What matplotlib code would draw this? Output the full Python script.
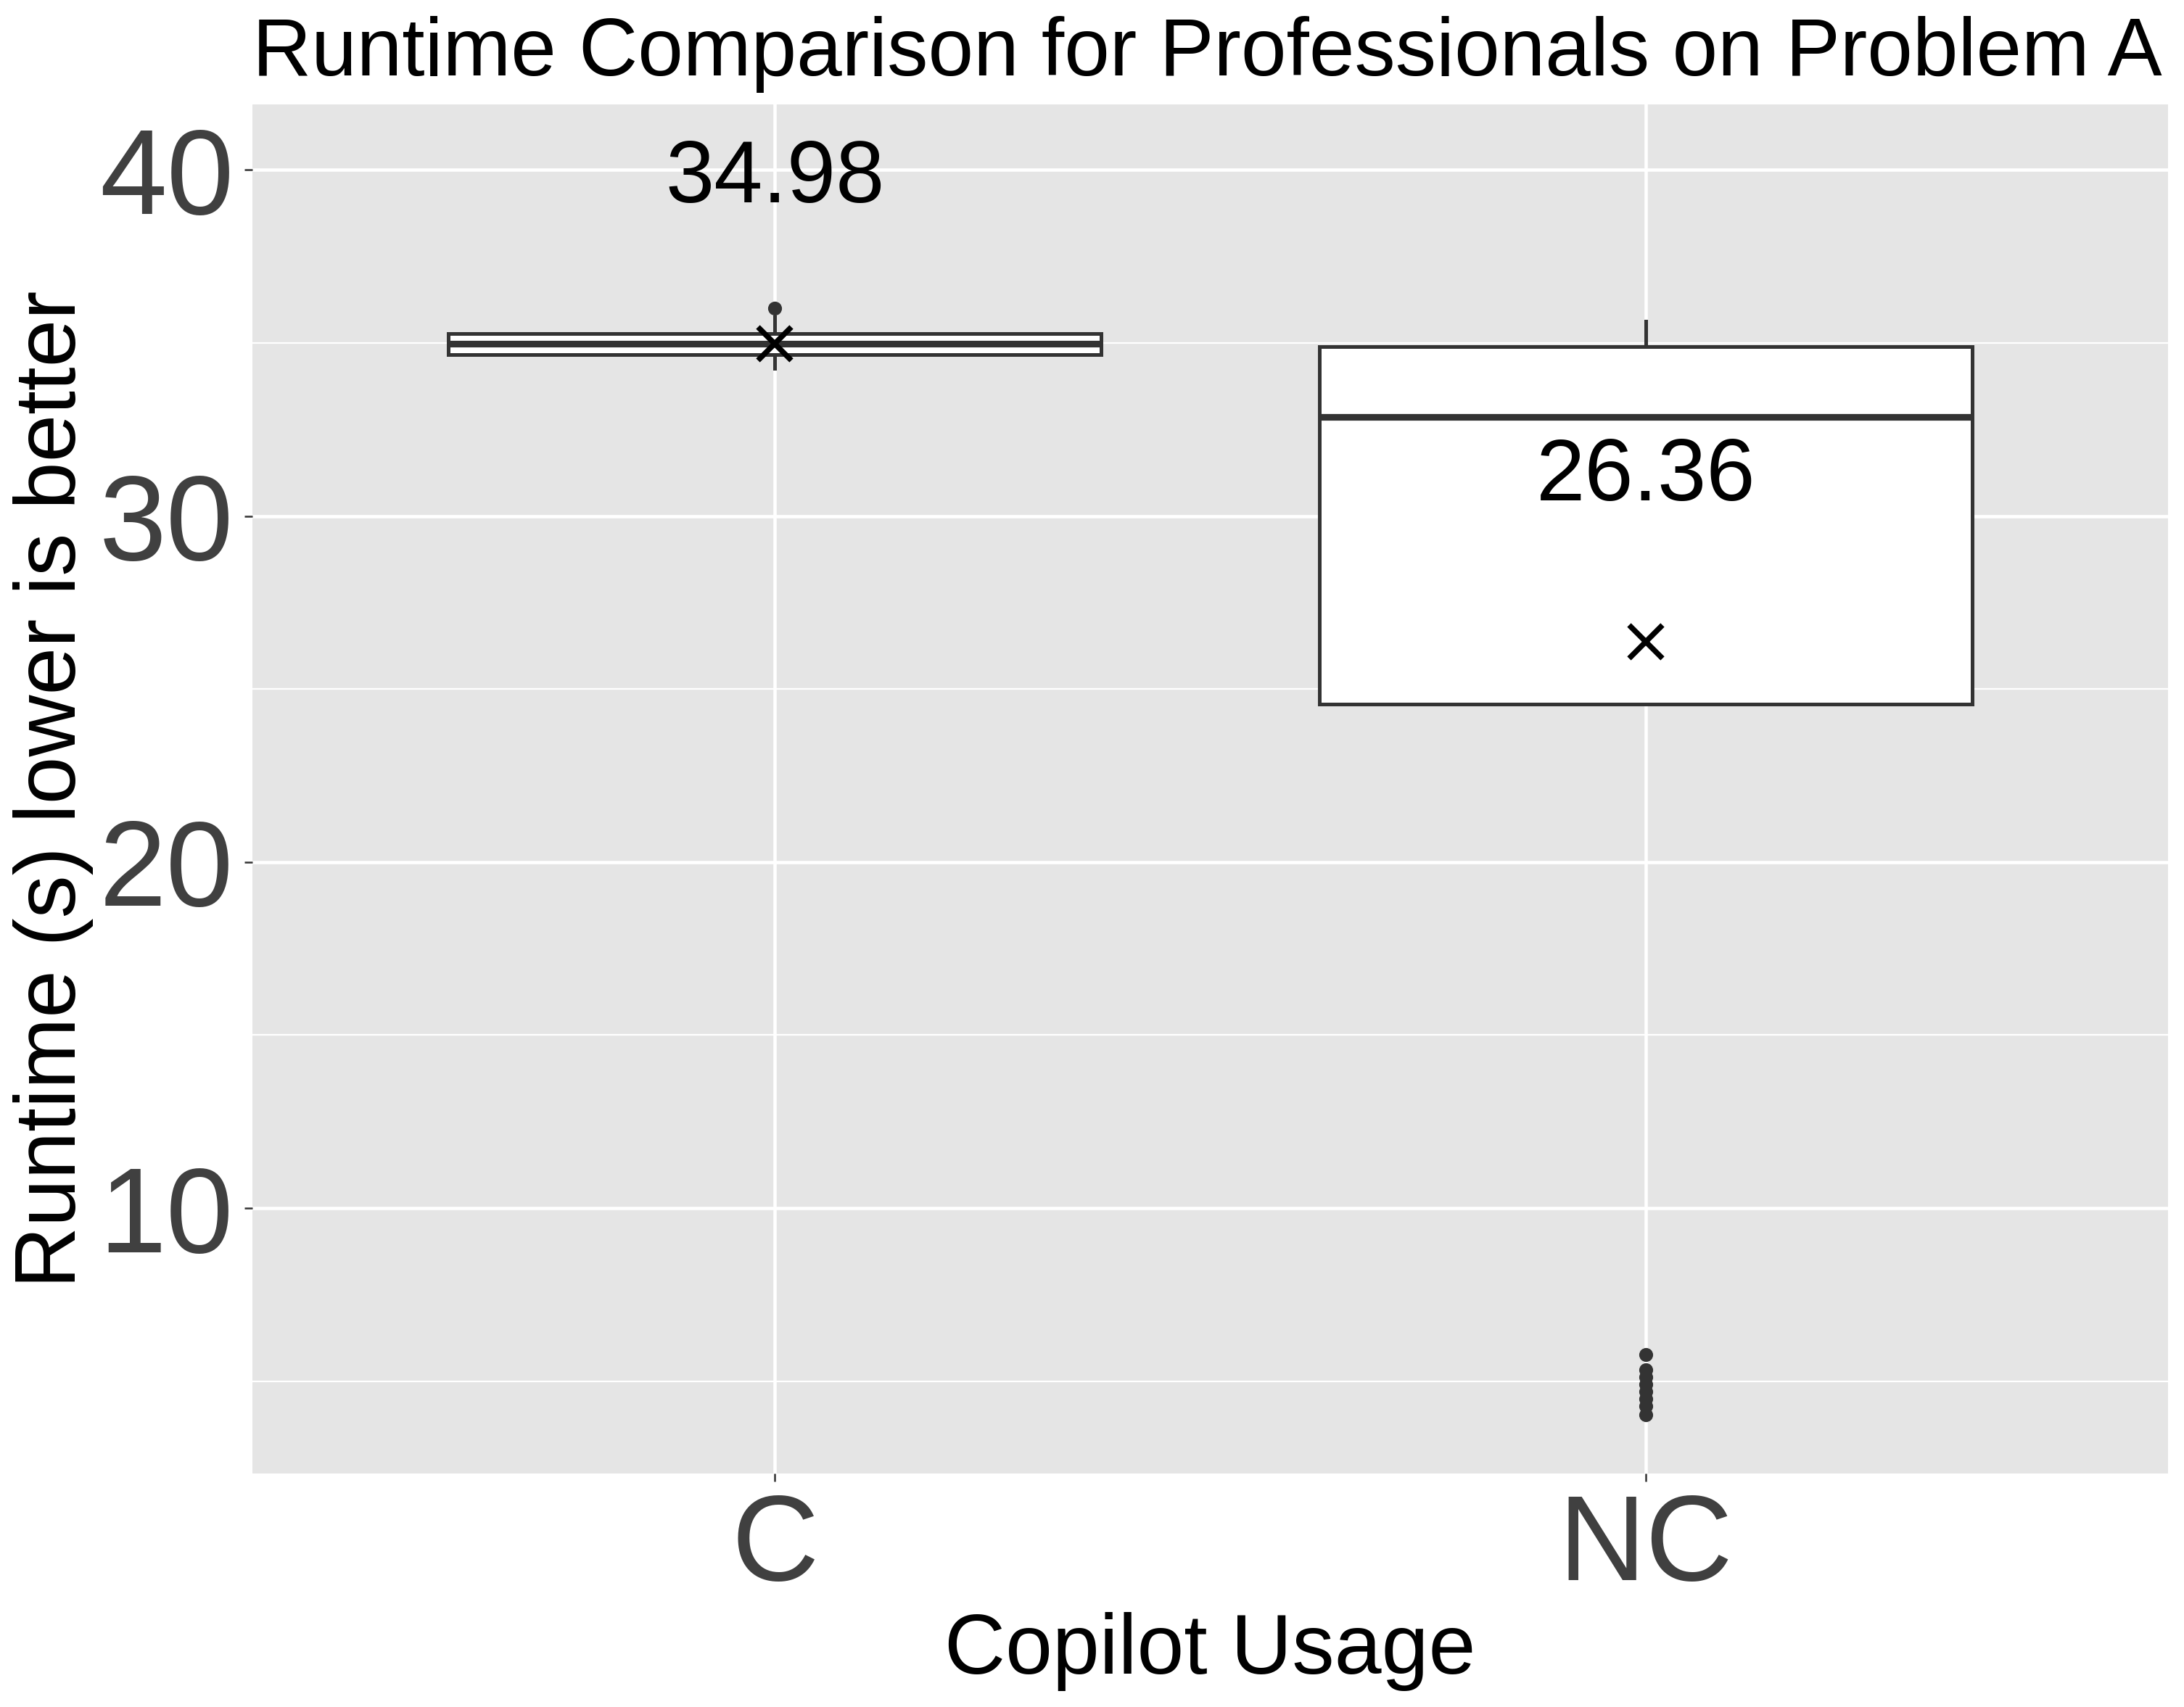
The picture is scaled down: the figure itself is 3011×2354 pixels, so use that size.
"""
Runtime comparison boxplot (Copilot vs no Copilot), ggplot-like styling.
"""
import matplotlib
matplotlib.use("Agg")
import matplotlib.pyplot as plt
from matplotlib.ticker import FixedLocator

plt.rcParams["font.family"] = ["Liberation Sans", "DejaVu Sans"]

# box statistics
groups = ["C", "NC"]
q1 = [34.67, 24.57]
median = [34.97, 32.86]
q3 = [35.27, 34.90]
whisker_low = [34.27, 24.57]
whisker_high = [35.75, 35.62]
outliers = [[36.01], [5.77, 5.34, 5.13, 4.92, 4.71, 4.50, 4.29, 4.04]]
means = [34.98, 26.36]

BG = "#E5E5E5"
LINE = "#333333"
TICKTXT = "#404040"

fig = plt.figure(figsize=(3012 / 300, 2354 / 300), dpi=300)
ax = fig.add_axes([0.1155, 0.1367, 0.9924 - 0.1155, 0.9388 - 0.1367])
ax.set_facecolor(BG)
for s in ax.spines.values():
    s.set_visible(False)

positions = list(range(1, len(groups) + 1))
stats = [dict(label=g, q1=a, med=m, q3=b, whislo=lo, whishi=hi, fliers=f)
         for g, a, m, b, lo, hi, f in zip(groups, q1, median, q3, whisker_low, whisker_high, outliers)]

ax.bxp(stats, positions=positions, widths=0.75, patch_artist=True, showcaps=False,
       boxprops=dict(facecolor="white", edgecolor=LINE, linewidth=1.2),
       medianprops=dict(color=LINE, linewidth=2.2),
       whiskerprops=dict(color=LINE, linewidth=1.2),
       flierprops=dict(marker="o", markersize=4.6, markerfacecolor=LINE,
                       markeredgecolor=LINE, markeredgewidth=0),
       zorder=3)

# mean markers and labels
ax.plot(positions, means, linestyle="none", marker="x", markersize=11,
        markeredgewidth=1.8, color="black", zorder=4)
for p, m in zip(positions, means):
    ax.text(p, m + 5, f"{m:.2f}", ha="center", va="center_baseline",
            fontsize=29, color="black", zorder=5)

ax.set_xlim(0.4, 2.6)
ax.set_ylim(2.33, 41.89)
ax.set_xticks(positions)
ax.set_xticklabels(groups)
ax.set_yticks([10, 20, 30, 40])
ax.yaxis.set_minor_locator(FixedLocator([5, 15, 25, 35]))
ax.grid(which="major", color="white", linewidth=1.1)
ax.grid(which="minor", axis="y", color="white", linewidth=0.55)
ax.set_axisbelow(True)
ax.tick_params(axis="both", which="major", length=2.7, width=0.6, color=LINE,
               labelsize=40, labelcolor=TICKTXT, pad=3.5)
ax.tick_params(axis="y", which="minor", length=0)

fig.text(0.1155, 1 - 104 / 2354, "Runtime Comparison for Professionals on Problem A",
         fontsize=27, color="black", ha="left", va="baseline")
fig.text(0.5538, 1 - 2308 / 2354, "Copilot Usage", fontsize=28, color="black",
         ha="center", va="baseline")
fig.text(74 / 3012, 0.5378, "Runtime (s) lower is better", fontsize=28.3, color="black",
         rotation=90, ha="center", va="center")

fig.savefig("out.png", dpi=300, facecolor="white")
